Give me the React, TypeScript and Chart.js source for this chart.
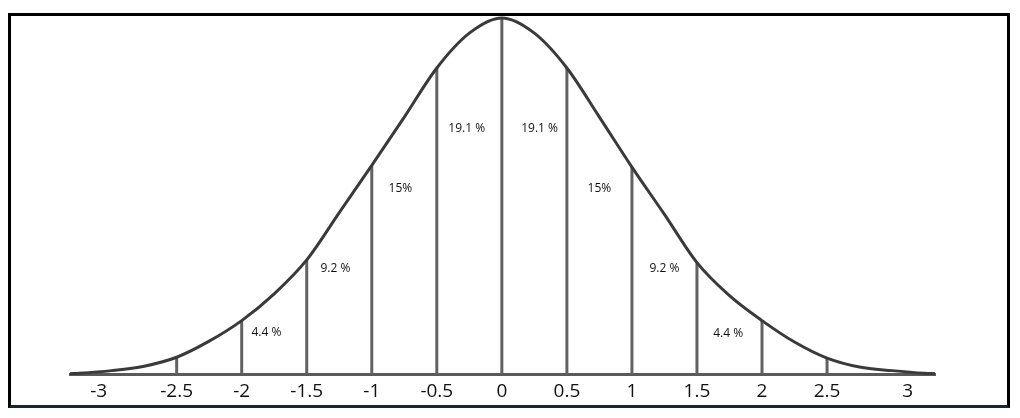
import React, { useEffect, useRef } from "react";
import { Chart, registerables } from "chart.js";

Chart.register(...registerables);

// Bell curve (x in standard deviations, y density)
const curveX = [-3.32, -3.25, -3, -2.75, -2.5, -2.25, -2, -1.75, -1.5, -1.25, -1, -0.75, -0.5, -0.25, 0, 0.25, 0.5, 0.75, 1, 1.25, 1.5, 1.75, 2, 2.25, 2.5, 2.75, 3, 3.25, 3.33];
const curveY = [0.0005, 0.001, 0.004, 0.009, 0.019, 0.037, 0.06, 0.09, 0.128, 0.181, 0.234, 0.288, 0.343, 0.382, 0.399, 0.382, 0.343, 0.288, 0.232, 0.179, 0.125, 0.088, 0.06, 0.036, 0.018, 0.008, 0.004, 0.001, 0.0005];

// Divider lines
const dividerX = [-2.5, -2, -1.5, -1, -0.5, 0, 0.5, 1, 1.5, 2, 2.5];
const dividerY = [0.019, 0.06, 0.128, 0.234, 0.343, 0.399, 0.343, 0.232, 0.125, 0.06, 0.018];

// Percentage annotations
const pctText = ["4.4 %", "9.2 %", "15%", "19.1 %", "19.1 %", "15%", "9.2 %", "4.4 %"];
const pctX = [-1.81, -1.28, -0.78, -0.27, 0.29, 0.75, 1.25, 1.74];
const pctY = [0.047, 0.118, 0.208, 0.275, 0.275, 0.208, 0.118, 0.046];

// Axis ticks
const tickValues = [-3.1, -2.5, -2, -1.5, -1, -0.5, 0, 0.5, 1, 1.5, 2, 2.5, 3.12];
const tickLabels = ["-3", "-2.5", "-2", "-1.5", "-1", "-0.5", "0", "0.5", "1", "1.5", "2", "2.5", "3"];

const pctPlugin = {
  id: "pctLabels",
  afterDatasetsDraw(chart: any) {
    const { ctx, scales } = chart;
    ctx.save();
    ctx.font = '12px "Open Sans"';
    ctx.fillStyle = "#111";
    ctx.textAlign = "center";
    ctx.textBaseline = "middle";
    pctText.forEach((t, i) => {
      ctx.fillText(t, scales.x.getPixelForValue(pctX[i]), scales.y.getPixelForValue(pctY[i]));
    });
    ctx.restore();
  },
};

export default function App() {
  const ref = useRef<HTMLCanvasElement>(null);
  useEffect(() => {
    if (!ref.current) return;
    const dividerSets = dividerX.map((x, i) => ({
      data: [
        { x, y: 0 },
        { x, y: dividerY[i] },
      ],
      borderColor: "#626262",
      borderWidth: 3,
      pointRadius: 0,
      tension: 0,
      order: 2,
    }));
    const chart = new Chart(ref.current, {
      type: "line",
      data: {
        datasets: [
          {
            data: curveX.map((x, i) => ({ x, y: curveY[i] })),
            borderColor: "#3a3a3a",
            borderWidth: 3,
            pointRadius: 0,
            cubicInterpolationMode: "monotone",
            order: 1,
          },
          ...dividerSets,
        ],
      },
      options: {
        animation: false,
        responsive: false,
        clip: false as any,
        layout: { padding: { left: 70, right: 85, top: 18, bottom: 9 } },
        plugins: { legend: { display: false }, tooltip: { enabled: false } },
        scales: {
          x: {
            type: "linear",
            min: -3.32,
            max: 3.33,
            afterBuildTicks: (scale: any) => {
              scale.ticks = tickValues.map((v) => ({ value: v }));
            },
            ticks: {
              autoSkip: false,
              maxRotation: 0,
              padding: 6,
              color: "#111",
              font: { family: "Open Sans", size: 19 },
              callback: (_v: any, i: number) => tickLabels[i],
            },
            grid: { display: false, drawTicks: false },
            border: { display: true, color: "#5a5a5a", width: 3 },
          },
          y: {
            display: false,
            min: 0,
            max: 0.399,
          },
        },
      },
      plugins: [pctPlugin],
    });
    return () => chart.destroy();
  }, []);
  return (
    <div style={{ position: "fixed", left: 0, top: 0, width: 1020, height: 418, background: "#fff" }}>
      <canvas ref={ref} width={1020} height={418} style={{ position: "absolute", left: 0, top: 0 }} />
      <div
        style={{
          position: "absolute",
          left: 8,
          top: 13,
          width: 996,
          height: 389,
          borderTop: "3px solid #000",
          borderLeft: "3px solid #000",
          borderRight: "3px solid #000",
          borderBottom: "3px solid #1c2331",
          pointerEvents: "none",
        }}
      />
    </div>
  );
}
